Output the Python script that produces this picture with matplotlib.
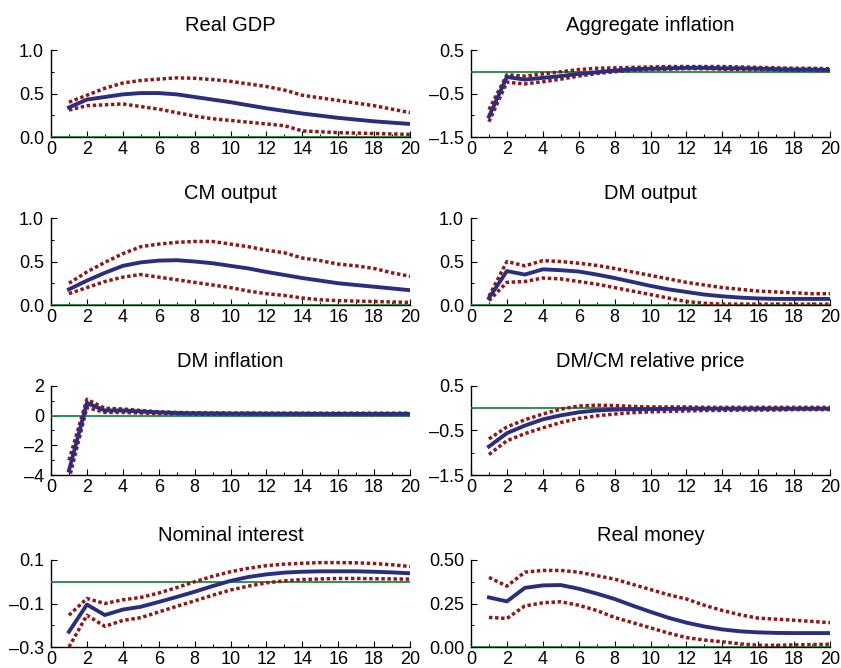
import matplotlib
matplotlib.use("Agg")
import matplotlib.pyplot as plt
from matplotlib.ticker import MultipleLocator
from typing import List, Tuple


PERIODS: List[int] = list(range(1, 21))

# impulse responses: posterior median and 90% bands
GDP_MID = [0.34, 0.43, 0.46, 0.49, 0.505, 0.505, 0.49, 0.46, 0.43, 0.40,
           0.365, 0.33, 0.30, 0.27, 0.245, 0.22, 0.20, 0.18, 0.165, 0.15]
GDP_HI = [0.40, 0.48, 0.56, 0.62, 0.65, 0.665, 0.68, 0.675, 0.66, 0.64,
          0.61, 0.58, 0.54, 0.48, 0.45, 0.42, 0.39, 0.36, 0.32, 0.28]
GDP_LO = [0.31, 0.36, 0.37, 0.38, 0.35, 0.32, 0.28, 0.24, 0.21, 0.19,
          0.17, 0.15, 0.13, 0.07, 0.06, 0.05, 0.045, 0.04, 0.035, 0.03]

INFL_MID = [-1.03, -0.12, -0.18, -0.14, -0.10, -0.05, -0.01, 0.03, 0.06, 0.07,
            0.08, 0.09, 0.09, 0.08, 0.08, 0.07, 0.06, 0.05, 0.05, 0.04]
INFL_HI = [-0.87, -0.07, -0.10, -0.05, 0.0, 0.05, 0.08, 0.09, 0.10, 0.11,
           0.12, 0.12, 0.12, 0.12, 0.11, 0.10, 0.09, 0.08, 0.08, 0.07]
INFL_LO = [-1.15, -0.24, -0.28, -0.23, -0.17, -0.10, -0.04, 0.0, 0.03, 0.05,
           0.06, 0.07, 0.07, 0.06, 0.05, 0.05, 0.04, 0.03, 0.03, 0.02]

CM_MID = [0.18, 0.28, 0.37, 0.45, 0.49, 0.51, 0.515, 0.50, 0.48, 0.45,
          0.42, 0.38, 0.345, 0.31, 0.28, 0.25, 0.23, 0.21, 0.19, 0.17]
CM_HI = [0.25, 0.38, 0.49, 0.59, 0.67, 0.70, 0.72, 0.73, 0.73, 0.70,
         0.67, 0.63, 0.60, 0.54, 0.51, 0.47, 0.45, 0.42, 0.37, 0.33]
CM_LO = [0.13, 0.20, 0.27, 0.32, 0.35, 0.32, 0.29, 0.26, 0.23, 0.20,
         0.16, 0.13, 0.11, 0.08, 0.06, 0.05, 0.045, 0.04, 0.035, 0.03]

DM_MID = [0.08, 0.39, 0.35, 0.41, 0.40, 0.385, 0.35, 0.31, 0.265, 0.22,
          0.18, 0.15, 0.12, 0.10, 0.085, 0.075, 0.07, 0.07, 0.07, 0.07]
DM_HI = [0.10, 0.50, 0.45, 0.51, 0.50, 0.48, 0.455, 0.42, 0.38, 0.34,
         0.30, 0.26, 0.23, 0.20, 0.18, 0.16, 0.15, 0.14, 0.13, 0.13]
DM_LO = [0.05, 0.26, 0.27, 0.31, 0.30, 0.27, 0.24, 0.20, 0.16, 0.12,
         0.08, 0.04, 0.02, 0.01, 0.01, 0.01, 0.01, 0.01, 0.01, 0.01]

DMINF_MID = [-3.7, 0.85, 0.35, 0.35, 0.28, 0.22, 0.18, 0.16, 0.15, 0.14,
             0.14, 0.13, 0.13, 0.13, 0.12, 0.12, 0.12, 0.12, 0.12, 0.12]
DMINF_HI = [-3.0, 1.1, 0.5, 0.45, 0.35, 0.26, 0.22, 0.20, 0.19, 0.18,
            0.18, 0.17, 0.17, 0.17, 0.17, 0.17, 0.17, 0.17, 0.17, 0.17]
DMINF_LO = [-4.3, 0.55, 0.22, 0.22, 0.18, 0.14, 0.12, 0.10, 0.09, 0.08,
            0.08, 0.08, 0.08, 0.07, 0.07, 0.07, 0.07, 0.07, 0.07, 0.07]

RELP_MID = [-0.86, -0.56, -0.39, -0.25, -0.16, -0.09, -0.05, -0.03, -0.02, -0.02,
            -0.015, -0.01, -0.01, -0.01, -0.01, -0.01, -0.01, -0.01, -0.01, -0.01]
RELP_HI = [-0.69, -0.42, -0.26, -0.13, -0.02, 0.05, 0.07, 0.06, 0.04, 0.03,
           0.03, 0.03, 0.02, 0.02, 0.02, 0.02, 0.02, 0.02, 0.02, 0.02]
RELP_LO = [-1.04, -0.73, -0.57, -0.44, -0.32, -0.23, -0.17, -0.13, -0.10, -0.08,
           -0.07, -0.06, -0.05, -0.05, -0.04, -0.04, -0.04, -0.03, -0.03, -0.03]

RATE_MID = [-0.23, -0.105, -0.153, -0.128, -0.115, -0.093, -0.07, -0.046, -0.02, 0.004,
            0.022, 0.034, 0.042, 0.046, 0.048, 0.048, 0.048, 0.046, 0.043, 0.039]
RATE_HI = [-0.154, -0.077, -0.10, -0.083, -0.072, -0.052, -0.027, 0.0, 0.025, 0.046,
           0.062, 0.074, 0.081, 0.085, 0.088, 0.088, 0.087, 0.084, 0.078, 0.07]
RATE_LO = [-0.30, -0.154, -0.205, -0.178, -0.165, -0.139, -0.113, -0.088, -0.062, -0.038,
           -0.02, -0.005, 0.004, 0.01, 0.013, 0.015, 0.015, 0.014, 0.013, 0.012]

MONEY_MID = [0.285, 0.262, 0.34, 0.354, 0.356, 0.335, 0.307, 0.276, 0.238, 0.202,
             0.168, 0.14, 0.118, 0.101, 0.09, 0.084, 0.081, 0.08, 0.08, 0.08]
MONEY_HI = [0.40, 0.35, 0.43, 0.44, 0.44, 0.43, 0.41, 0.39, 0.36, 0.33,
            0.30, 0.276, 0.24, 0.21, 0.185, 0.166, 0.16, 0.154, 0.147, 0.14]
MONEY_LO = [0.17, 0.164, 0.236, 0.254, 0.26, 0.24, 0.21, 0.17, 0.14, 0.11,
            0.08, 0.054, 0.04, 0.03, 0.018, 0.01, 0.01, 0.012, 0.014, 0.016]

TITLES = ["Real GDP", "Aggregate inflation", "CM output", "DM output",
          "DM inflation", "DM/CM relative price", "Nominal interest", "Real money"]

Y_LIMITS = [(0.0, 1.0), (-1.5, 0.5), (0.0, 1.0), (0.0, 1.0),
            (-4.0, 2.0), (-1.5, 0.5), (-0.3, 0.1), (0.0, 0.5)]
Y_TICKS = [[0.0, 0.5, 1.0], [-1.5, -0.5, 0.5], [0.0, 0.5, 1.0], [0.0, 0.5, 1.0],
           [-4, -2, 0, 2], [-1.5, -0.5, 0.5], [-0.3, -0.1, 0.1], [0.0, 0.25, 0.5]]
Y_FORMATS = ["{:.1f}", "{:.1f}", "{:.1f}", "{:.1f}", "{:.0f}", "{:.1f}", "{:.1f}", "{:.2f}"]

NAVY = "#2b2e7e"
BRICK = "#8c1a1a"
GREEN = "#1f8a3e"

# panel frames in pixels: (left, right) per column, (top, bottom) per row
COLS = [(51, 410), (471, 830)]
ROWS = [(50, 137), (218, 305), (386, 475), (560, 647)]
FIG_W, FIG_H = 841, 668


def _fmt_minus(s: str) -> str:
  # long dash for negative numbers
  return s.replace("-", "\u2013")


def draw_panel(ax, k: int, mid, hi, lo) -> None:
  ymin, ymax = Y_LIMITS[k]
  ax.axhline(0.0, color=GREEN, lw=1.3, zorder=2.6)
  for band in (hi, lo):
    ax.plot(PERIODS, band, color=BRICK, lw=2.5, ls=(0, (1, 0.75)),
            dash_capstyle="butt", zorder=3)
  ax.plot(PERIODS, mid, color=NAVY, lw=2.8, solid_joinstyle="round", zorder=4)

  ax.set_xlim(0, 20)
  ax.set_ylim(ymin, ymax)
  ax.xaxis.set_major_locator(MultipleLocator(2))
  ax.xaxis.set_minor_locator(MultipleLocator(1))
  ticks = Y_TICKS[k]
  ax.set_yticks(ticks)
  ax.set_yticklabels([_fmt_minus(Y_FORMATS[k].format(t)) for t in ticks])
  ax.yaxis.set_minor_locator(MultipleLocator((ticks[1] - ticks[0]) / 2))

  for side in ("top", "right"):
    ax.spines[side].set_visible(False)
  for side in ("left", "bottom"):
    ax.spines[side].set_linewidth(1.0)
  ax.tick_params(which="major", direction="in", length=4, width=0.8,
                 labelsize=13)
  ax.tick_params(which="minor", direction="in", length=2.5, width=0.7)
  ax.tick_params(axis="x", pad=3)
  ax.tick_params(axis="y", pad=5)
  ax.set_title(TITLES[k], fontsize=14.5, pad=14)


def main() -> None:
  plt.rcParams["font.family"] = ["Liberation Sans", "DejaVu Sans"]
  fig = plt.figure(figsize=(FIG_W / 100, FIG_H / 100), dpi=100)

  series: List[Tuple[list, list, list]] = [
    (GDP_MID, GDP_HI, GDP_LO),
    (INFL_MID, INFL_HI, INFL_LO),
    (CM_MID, CM_HI, CM_LO),
    (DM_MID, DM_HI, DM_LO),
    (DMINF_MID, DMINF_HI, DMINF_LO),
    (RELP_MID, RELP_HI, RELP_LO),
    (RATE_MID, RATE_HI, RATE_LO),
    (MONEY_MID, MONEY_HI, MONEY_LO),
  ]

  for k, (mid, hi, lo) in enumerate(series):
    x0, x1 = COLS[k % 2]
    y0, y1 = ROWS[k // 2]
    ax = fig.add_axes([x0 / FIG_W, 1 - y1 / FIG_H, (x1 - x0) / FIG_W, (y1 - y0) / FIG_H])
    draw_panel(ax, k, mid, hi, lo)

  fig.savefig("out.png", dpi=100)


if __name__ == "__main__":
  main()
